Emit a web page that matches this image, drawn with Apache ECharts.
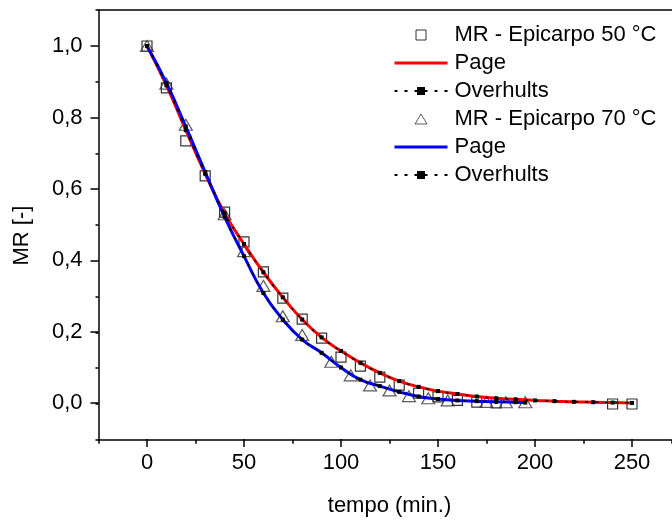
<!DOCTYPE html>
<html>
<head>
<meta charset="utf-8">
<script src="https://cdn.jsdelivr.net/npm/echarts@6/dist/echarts.min.js"></script>
<style>
html,body{margin:0;padding:0;background:#fff;}
#chart{width:672px;height:522px;}
</style>
</head>
<body>
<div id="chart"></div>
<script>
// ---- data ----
const time50 = [0,10,20,30,40,50,60,70,80,90,100,110,120,130,140,150,160,170,180,240,250];
const mr50   = [1.0,0.883,0.735,0.637,0.536,0.453,0.369,0.296,0.237,0.184,0.131,0.106,0.075,0.053,0.03,0.02,0.01,0.005,0.003,0.0,0.0];

const time70 = [0,10,20,40,50,60,70,80,95,105,115,125,135,145,155,175,185,195];
const mr70   = [1.0,0.895,0.78,0.53,0.427,0.33,0.245,0.193,0.118,0.08,0.052,0.038,0.022,0.016,0.01,0.006,0.005,0.005];

const fitTime50 = [0,10,20,30,40,50,60,70,80,90,100,110,120,130,140,150,160,170,180,190,200,210,220,230,240,250];
const page50    = [1.0,0.89,0.765,0.643,0.533,0.447,0.368,0.298,0.236,0.186,0.148,0.115,0.087,0.064,0.048,0.036,0.028,0.021,0.016,0.013,0.01,0.008,0.006,0.005,0.004,0.003];
const overhults50 = [1.0,0.89,0.765,0.643,0.533,0.447,0.368,0.298,0.236,0.186,0.148,0.115,0.087,0.064,0.048,0.036,0.028,0.021,0.016,0.013,0.01,0.008,0.006,0.005,0.004,0.003];

const fitTime70 = [0,10,20,30,40,50,60,70,80,90,100,110,120,130,140,150,160,170,180,190,195];
const page70    = [1.0,0.897,0.775,0.648,0.523,0.413,0.31,0.236,0.18,0.143,0.102,0.068,0.05,0.034,0.021,0.014,0.01,0.008,0.006,0.005,0.004];
const overhults70 = [1.0,0.897,0.775,0.648,0.523,0.413,0.31,0.236,0.18,0.143,0.102,0.068,0.05,0.034,0.021,0.014,0.01,0.008,0.006,0.005,0.004];

const xTicks = [0,50,100,150,200,250];
const yTicks = [0,0.2,0.4,0.6,0.8,1.0];

const name50 = 'MR - Epicarpo 50 °C';
const name70 = 'MR - Epicarpo 70 °C';

function pairs(xs, ys){ return xs.map((x,i)=>[x, ys[i]]); }

const FONT = 'Liberation Sans, Arial, sans-serif';
const SQUARE_ICON = 'path://M0,0L10,0L10,10L0,10Z';
const TRI_ICON = 'path://M6,0L12,10L0,10Z';
const chart = echarts.init(document.getElementById('chart'), null, {renderer:'canvas'});

const option = {
  animation: false,
  backgroundColor: '#fff',
  textStyle: {fontFamily: FONT},
  grid: [
    {left: 98.5, top: 10.2, width: 573.27, height: 429.6, containLabel: false},
    {left: 147, top: 46, width: 485, height: 358, containLabel: false}
  ],
  legend: {
    orient: 'vertical',
    left: 393,
    top: 24,
    padding: 0,
    itemWidth: 53,
    itemHeight: 10,
    itemGap: 6,
    symbolKeepAspect: true,
    selectedMode: false,
    formatter: n => n.trim(),
    textStyle: {fontSize: 22, color: '#000', fontFamily: FONT, padding: [0,0,0,2]},
    data: [
      {name: name50, icon: SQUARE_ICON, itemStyle: {color: 'rgba(255,255,255,0)', borderColor: '#000', borderWidth: 1}},
      {name: 'Page', itemStyle: {opacity: 0}, lineStyle: {width: 3}},
      {name: 'Overhults'},
      {name: name70, icon: TRI_ICON, itemStyle: {color: 'rgba(255,255,255,0)', borderColor: '#333', borderWidth: 1}},
      {name: 'Page ', itemStyle: {opacity: 0}, lineStyle: {width: 3}},
      {name: 'Overhults '}
    ]
  },
  xAxis: [
    {gridIndex: 0, type: 'value', min: -25, max: 270.5, interval: 25, position: 'bottom',
     axisLine: {show: true, onZero: false, lineStyle: {color: '#000', width: 1.5}},
     axisTick: {show: true, length: 4, lineStyle: {color: '#000', width: 1.5}},
     axisLabel: {show: false}, splitLine: {show: false}},
    {gridIndex: 1, type: 'value', min: 0, max: 250, interval: 50, position: 'bottom', offset: 35.8,
     axisLine: {show: false, onZero: false},
     axisTick: {show: true, length: 8, lineStyle: {color: '#000', width: 1.5}},
     axisLabel: {show: true, fontSize: 22, color: '#000', margin: 13, fontFamily: FONT},
     splitLine: {show: false},
     name: 'tempo (min.)', nameLocation: 'middle', nameGap: 56,
     nameTextStyle: {fontSize: 22, color: '#000', fontFamily: FONT}},
    {gridIndex: 0, type: 'value', min: -25, max: 270.5, position: 'top',
     axisLine: {show: true, onZero: false, lineStyle: {color: '#000', width: 1.5}},
     axisTick: {show: false}, axisLabel: {show: false}, splitLine: {show: false}}
  ],
  yAxis: [
    {gridIndex: 0, type: 'value', min: -0.1, max: 1.1, interval: 0.1,
     axisLine: {show: true, onZero: false, lineStyle: {color: '#000', width: 1.5}},
     axisTick: {show: true, length: 3, lineStyle: {color: '#000', width: 1.5}},
     axisLabel: {show: false}, splitLine: {show: false}},
    {gridIndex: 1, type: 'value', min: 0, max: 1, interval: 0.2, offset: 48.5,
     axisLine: {show: false, onZero: false},
     axisTick: {show: true, length: 8, lineStyle: {color: '#000', width: 1.5}},
     axisLabel: {show: true, fontSize: 22, color: '#000', margin: 16, fontFamily: FONT,
                 formatter: v => v.toFixed(1).replace('.', ',')},
     splitLine: {show: false},
     name: 'MR [-]', nameLocation: 'middle', nameGap: 66, nameRotate: 90,
     nameTextStyle: {fontSize: 22, color: '#000', fontFamily: FONT, padding: [0, 22, 0, 0]}}
  ],
  series: [
    {name: name50, type: 'scatter', xAxisIndex: 0, yAxisIndex: 0, z: 2,
     symbol: 'rect', symbolSize: 10,
     itemStyle: {color: 'rgba(255,255,255,0)', borderColor: '#000', borderWidth: 1.2},
     data: pairs(time50, mr50)},
    {name: name70, type: 'scatter', xAxisIndex: 0, yAxisIndex: 0, z: 2,
     symbol: 'triangle', symbolSize: [13, 11],
     itemStyle: {color: 'rgba(255,255,255,0)', borderColor: '#333', borderWidth: 1.2},
     data: pairs(time70, mr70)},
    {name: 'Page', type: 'line', xAxisIndex: 0, yAxisIndex: 0, z: 3,
     smooth: true, symbol: 'none', showSymbol: false,
     lineStyle: {color: '#ff0000', width: 3}, itemStyle: {color: '#ff0000'},
     data: pairs(fitTime50, page50)},
    {name: 'Page ', type: 'line', xAxisIndex: 0, yAxisIndex: 0, z: 4,
     smooth: true, symbol: 'none', showSymbol: false,
     lineStyle: {color: '#0000ff', width: 3}, itemStyle: {color: '#0000ff'},
     data: pairs(fitTime70, page70)},
    {name: 'Overhults', type: 'line', xAxisIndex: 0, yAxisIndex: 0, z: 5,
     smooth: true, symbol: 'rect', symbolSize: 4, showSymbol: true,
     lineStyle: {color: '#000', width: 1.5, type: [3, 7]}, itemStyle: {color: '#000'},
     data: pairs(fitTime50, overhults50)},
    {name: 'Overhults ', type: 'line', xAxisIndex: 0, yAxisIndex: 0, z: 5,
     smooth: true, symbol: 'rect', symbolSize: 4, showSymbol: true,
     lineStyle: {color: '#000', width: 1.5, type: [3, 7]}, itemStyle: {color: '#000'},
     data: pairs(fitTime70, overhults70)}
  ]
};
chart.setOption(option);
</script>
</body>
</html>
